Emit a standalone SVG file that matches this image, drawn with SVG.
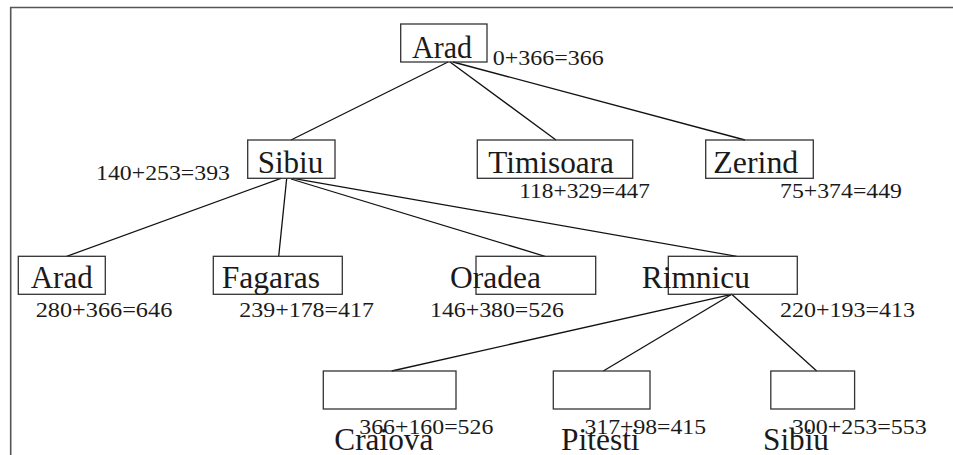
<svg xmlns="http://www.w3.org/2000/svg" width="953" height="455" viewBox="0 0 953 455">
<style>
.frame{fill:none;stroke:#555;stroke-width:1.6}
.box{fill:none;stroke:#333;stroke-width:1.3}
.edge{stroke:#111;stroke-width:1.3;fill:none}
.n{font-family:"Liberation Serif","Times New Roman",serif;font-size:31px;fill:#1a1a1a}
.l{font-family:"Liberation Serif","Times New Roman",serif;font-size:22px;fill:#1a1a1a}
</style>
<rect width="953" height="455" fill="#fff"/>
<path class="frame" d="M10.7,455 V7.5 H953"/>
<g id="connectors">
<line class="edge" x1="448" y1="62" x2="291" y2="140"/>
<line class="edge" x1="450" y1="62" x2="556" y2="140"/>
<line class="edge" x1="453" y1="62" x2="745" y2="140"/>
<line class="edge" x1="281" y1="178.3" x2="66.7" y2="256.3"/>
<line class="edge" x1="286.7" y1="178.3" x2="278.7" y2="256.3"/>
<line class="edge" x1="291" y1="179" x2="545" y2="256.3"/>
<line class="edge" x1="293" y1="178.3" x2="736.7" y2="256.3"/>
<line class="edge" x1="731.7" y1="294.3" x2="391.7" y2="371"/>
<line class="edge" x1="731.7" y1="294.3" x2="603.3" y2="371"/>
<line class="edge" x1="731.7" y1="294.3" x2="816.7" y2="371"/>
</g>
<g id="arad-root">
<rect class="box" x="400.7" y="24" width="86.3" height="38"/>
<text class="n" x="412" y="58" font-size="33" textLength="60" lengthAdjust="spacingAndGlyphs">Arad</text>
<text class="l" x="492.7" y="65" font-size="24" textLength="111" lengthAdjust="spacingAndGlyphs">0+366=366</text>
</g>
<g id="sibiu">
<rect class="box" x="247.7" y="140" width="87.3" height="38.3"/>
<text class="n" x="257.7" y="172.7" textLength="65.6" lengthAdjust="spacingAndGlyphs">Sibiu</text>
<text class="l" x="96" y="180" textLength="134" lengthAdjust="spacingAndGlyphs">140+253=393</text>
</g>
<g id="timisoara">
<rect class="box" x="477.3" y="140" width="155.4" height="38.3"/>
<text class="n" x="488.3" y="172.7" textLength="125.7" lengthAdjust="spacingAndGlyphs">Timisoara</text>
<text class="l" x="519.3" y="198.3" textLength="130.7" lengthAdjust="spacingAndGlyphs">118+329=447</text>
</g>
<g id="zerind">
<rect class="box" x="705.7" y="140" width="107.6" height="38.3"/>
<text class="n" x="713.3" y="172.7" textLength="85" lengthAdjust="spacingAndGlyphs">Zerind</text>
<text class="l" x="780" y="198.3" textLength="122" lengthAdjust="spacingAndGlyphs">75+374=449</text>
</g>
<g id="arad-2">
<rect class="box" x="18.3" y="256.3" width="87" height="38"/>
<text class="n" x="30.7" y="287.7" textLength="62" lengthAdjust="spacingAndGlyphs">Arad</text>
<text class="l" x="35.7" y="317.3" textLength="136.6" lengthAdjust="spacingAndGlyphs">280+366=646</text>
</g>
<g id="fagaras">
<rect class="box" x="213.3" y="256.3" width="129" height="38"/>
<text class="n" x="221.7" y="287.7" textLength="98.3" lengthAdjust="spacingAndGlyphs">Fagaras</text>
<text class="l" x="239.3" y="317.3" textLength="134.7" lengthAdjust="spacingAndGlyphs">239+178=417</text>
</g>
<g id="oradea">
<rect class="box" x="476" y="256.3" width="119.7" height="38"/>
<text class="n" x="450" y="287.7" textLength="91" lengthAdjust="spacingAndGlyphs">Oradea</text>
<text class="l" x="430" y="317.3" textLength="134" lengthAdjust="spacingAndGlyphs">146+380=526</text>
</g>
<g id="rimnicu">
<rect class="box" x="668.3" y="256.3" width="129" height="38"/>
<text class="n" x="641.7" y="287.7" textLength="108.3" lengthAdjust="spacingAndGlyphs">Rimnicu</text>
<text class="l" x="780" y="316.7" textLength="135" lengthAdjust="spacingAndGlyphs">220+193=413</text>
</g>
<g id="craiova">
<rect class="box" x="323.3" y="371" width="132.7" height="38"/>
<text class="n" x="334.3" y="450" textLength="99" lengthAdjust="spacingAndGlyphs">Craiova</text>
<text class="l" x="359.3" y="434" textLength="134" lengthAdjust="spacingAndGlyphs">366+160=526</text>
</g>
<g id="pitesti">
<rect class="box" x="553.3" y="371" width="96.7" height="38"/>
<text class="n" x="561" y="450" textLength="78.6" lengthAdjust="spacingAndGlyphs">Pitesti</text>
<text class="l" x="584.6" y="434" textLength="121.4" lengthAdjust="spacingAndGlyphs">317+98=415</text>
</g>
<g id="sibiu-2">
<rect class="box" x="770.8" y="371" width="83.8" height="38"/>
<text class="n" x="763" y="450" textLength="66" lengthAdjust="spacingAndGlyphs">Sibiu</text>
<text class="l" x="791.7" y="434" textLength="135" lengthAdjust="spacingAndGlyphs">300+253=553</text>
</g>
</svg>
